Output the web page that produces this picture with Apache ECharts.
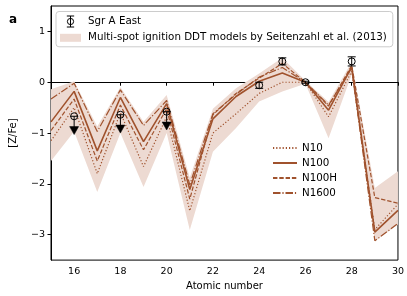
<!DOCTYPE html>
<html><head><meta charset="utf-8">
<script src="https://cdn.jsdelivr.net/npm/echarts@6/dist/echarts.min.js"></script>
<style>html,body{margin:0;padding:0;background:#fff}#c{width:407px;height:296px}</style>
</head><body><div id="c"></div>
<script>
const Z = [15,16,17,18,19,20,21,22,23,24,25,26,27,28,29,30];
const N10   = [-1.15,-0.50,-1.80,-0.60,-1.66,-0.68,-2.53,-1.00,-0.62,-0.22,0.00,0.00,-0.68,0.22,-2.90,-2.40];
const N100  = [-0.78,-0.18,-1.35,-0.30,-1.17,-0.42,-2.11,-0.72,-0.28,0.02,0.18,0.00,-0.55,0.30,-2.95,-2.52];
const N100H = [-0.95,-0.33,-1.55,-0.45,-1.33,-0.52,-2.30,-0.64,-0.22,0.08,0.37,0.00,-0.47,0.33,-2.27,-2.38];
const N1600 = [-0.33,-0.02,-0.97,-0.15,-0.85,-0.36,-2.02,-0.62,-0.24,0.10,0.29,0.00,-0.45,0.28,-3.12,-2.78];
const bandUpper = [-0.14,0.02,-0.87,-0.10,-0.78,-0.25,-1.88,-0.52,-0.12,0.17,0.48,0.03,-0.39,0.40,-2.08,-1.75];
const bandLower = [-1.55,-0.97,-2.16,-1.00,-2.06,-1.00,-2.91,-1.37,-0.90,-0.38,-0.18,-0.03,-1.10,0.15,-3.13,-2.80];
const obsZ = [16,18,20,24,25,26,28];
const obsVal = [-0.67,-0.64,-0.58,-0.06,0.41,0.00,0.41];
const obsErr = [0,0,0,0.06,0.07,0.02,0.09];
const obsUpperLimit = [1,1,1,0,0,0,0];
const elemZ = [16,18,20,24,25,26,28];
const elemNames = ['S','Ar','Ca','Cr','Mn','Fe','Ni'];
const xTicks = [16,18,20,22,24,26,28,30];
const yTicks = [-3,-2,-1,0,1];

const lineColor = '#a0522d';
const bandColor = '#eddad2';
const bandName = 'Multi-spot ignition DDT models by Seitenzahl et al. (2013)';
const font = 'DejaVu Sans';

const chart = echarts.init(document.getElementById('c'), null, {renderer:'canvas'});

function lineSeries(name, vals, type, width){
  return {
    name: name, type:'line', data: Z.map((z,i)=>[z, vals[i]]),
    symbol:'none', z:3,
    lineStyle:{color: lineColor, width: width, type: type},
    itemStyle:{color: lineColor}
  };
}

const option = {
  animation:false,
  title:{text:'a', left:4, top:9, textStyle:{fontFamily:font, fontSize:12, fontWeight:'bold', color:'#000'}},
  grid:{left:50.5, right:9, top:6, bottom:33, show:true, borderColor:'#000', borderWidth:1, containLabel:false},
  xAxis:{type:'value', min:15, max:30,
    name:'Atomic number', nameLocation:'middle', nameGap:20,
    nameTextStyle:{fontFamily:font, fontSize:10, color:'#000'},
    axisLine:{show:true, lineStyle:{color:'#000', width:1}},
    axisTick:{show:true, length:3.5, lineStyle:{color:'#000'}, customValues: xTicks},
    axisLabel:{fontFamily:font, fontSize:9.5, color:'#000', margin:6, customValues: xTicks},
    splitLine:{show:false}},
  yAxis:{type:'value', min:-3.5, max:1.5,
    name:'[Z/Fe]', nameLocation:'middle', nameGap:33,
    nameTextStyle:{fontFamily:font, fontSize:10, color:'#000'},
    axisLine:{show:true, lineStyle:{color:'#000', width:1}},
    axisTick:{show:true, length:3.5, lineStyle:{color:'#000'}, customValues: yTicks},
    axisLabel:{fontFamily:font, fontSize:9.5, color:'#000', margin:6, customValues: yTicks,
      formatter: v => String(v).replace('-', '\u2212')},
    splitLine:{show:false}},
  legend:[
    {orient:'vertical', left:56, top:11.5, padding:[2,6,4,4], itemGap:3.3, itemWidth:21, itemHeight:11,
     borderColor:'#cccccc', borderWidth:1, borderRadius:3, backgroundColor:'#fff',
     textStyle:{fontFamily:font, fontSize:10.3, color:'#000', padding:[0,0,0,2]},
     selectedMode:false,
     data:[
       {name:'Sgr A East', icon:'path://M2,0 L10,0 M6,0 L6,12 M2,12 L10,12 M6,2.6 A3.4,3.4 0 1 1 6,9.4 A3.4,3.4 0 1 1 6,2.6',
        itemStyle:{color:'none', borderColor:'#000', borderWidth:1}},
       {name: bandName, icon:'path://M0,0 L21,0 L21,8 L0,8 Z', itemStyle:{color: bandColor, borderWidth:0}}
     ]},
    {orient:'vertical', left:272, top:143, padding:0, itemGap:5, itemWidth:24, itemHeight:10,
     textStyle:{fontFamily:font, fontSize:10.3, color:'#000'},
     itemStyle:{opacity:0},
     selectedMode:false,
     data:['N10','N100','N100H','N1600']}
  ],
  series:[
    {name: bandName, type:'custom', z:1, silent:true,
     data: Z.map((z,i)=>[z, bandLower[i], bandUpper[i]]),
     encode:{x:0, y:[1,2]},
     itemStyle:{color: bandColor},
     renderItem:function(params, api){
       if (params.dataIndex !== 0) return null;
       const pts = [];
       for (let i=0;i<Z.length;i++) pts.push(api.coord([Z[i], bandUpper[i]]));
       for (let i=Z.length-1;i>=0;i--) pts.push(api.coord([Z[i], bandLower[i]]));
       return {type:'polygon', shape:{points:pts}, style:{fill: bandColor, stroke:'none'}};
     }},
    lineSeries('N10', N10, [1.2,2.0], 1.2),
    lineSeries('N100', N100, 'solid', 1.6),
    lineSeries('N100H', N100H, [4.4,1.9], 1.2),
    lineSeries('N1600', N1600, [7.5,1.9,1.2,1.9], 1.2),
    {name:'Sgr A East', type:'custom', z:5, silent:true,
     data: obsZ.map((z,i)=>[z, obsVal[i], obsErr[i], obsUpperLimit[i]]),
     encode:{x:0, y:1},
     itemStyle:{color:'#000'},
     renderItem:function(params, api){
       const z = api.value(0), v = api.value(1), e = api.value(2), ul = api.value(3);
       const c = api.coord([z, v]);
       const r = 3.5, cw = 4;
       const st = {stroke:'#000', lineWidth:1, fill:'none'};
       const ch = [];
       if (ul) {
         const tip = api.coord([z, v - 0.36]);
         ch.push({type:'line', shape:{x1:c[0]-cw, y1:c[1], x2:c[0]+cw, y2:c[1]}, style:st});
         ch.push({type:'line', shape:{x1:c[0], y1:c[1], x2:c[0], y2:tip[1]-7}, style:st});
         ch.push({type:'polygon', shape:{points:[[c[0]-4.5, tip[1]-8],[c[0]+4.5, tip[1]-8],[c[0], tip[1]]]}, style:{fill:'#000', stroke:'#000', lineWidth:0.5}});
       } else {
         const t = api.coord([z, v + e]), b = api.coord([z, v - e]);
         ch.push({type:'line', shape:{x1:c[0], y1:t[1], x2:c[0], y2:b[1]}, style:st});
         ch.push({type:'line', shape:{x1:c[0]-cw, y1:t[1], x2:c[0]+cw, y2:t[1]}, style:st});
         ch.push({type:'line', shape:{x1:c[0]-cw, y1:b[1], x2:c[0]+cw, y2:b[1]}, style:st});
       }
       ch.push({type:'circle', shape:{cx:c[0], cy:c[1], r:r}, style:st});
       return {type:'group', children: ch};
     }},
    {name:'elements', type:'scatter', z:6, silent:true, symbolSize:1,
     itemStyle:{opacity:0},
     data: elemZ.map((z,i)=>({name: elemNames[i], value:[z, -3.22]})),
     label:{show:true, position:'inside', formatter: p => p.name,
       fontFamily:font, fontSize:10, color:'#000'}}
  ]
};
chart.setOption(option);
</script>
</body></html>
